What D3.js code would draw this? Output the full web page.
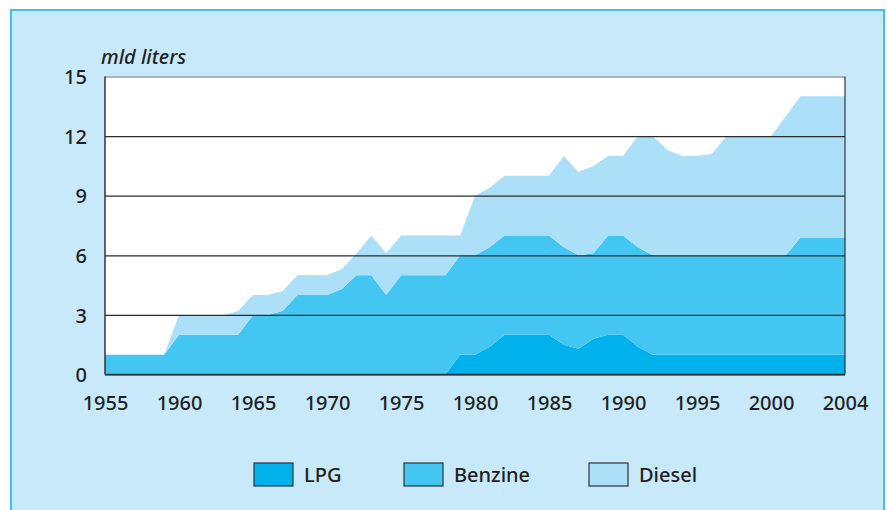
<!DOCTYPE html>
<meta charset="utf-8">
<style>
	body {
	margin: 0;
	background-color: #fff;
	}
	text {
	font-family: "Noto Sans", sans-serif;
	font-weight: 500;
	fill: #231f20;
	}
	.grid line {
	stroke: #2b2b2b;
	stroke-width: 1.2;
	}
	.grid path {
	display: none;
	}
	.xaxis path, .xaxis line {
	display: none;
	}
</style>
<body>
	<script src="https://cdn.jsdelivr.net/npm/d3@7"></script>
	<script>
		// yearly values (mld liters)
		var years = d3.range(1955, 2006);

		var lpg = [0,0,0,0,0, 0,0,0,0,0, 0,0,0,0,0, 0,0,0,0,0,
		           0,0,0,0,1, 1,1.4,2,2,2, 2,1.5,1.3,1.8,2, 2,1.4,1,1,1,
		           1,1,1,1,1, 1,1,1,1,1, 1];
		var benzine = [1,1,1,1,1, 2,2,2,2,2, 3,3,3.2,4,4, 4,4.3,5,5,4,
		               5,5,5,5,5, 5,5,5,5,5, 5,4.9,4.7,4.3,5, 5,5,5,5,5,
		               5,5,5,5,5, 5,5,5.9,5.9,5.9, 5.9];
		var diesel = [0,0,0,0,0, 1,1,1,1,1.2, 1,1,1,1,1, 1,1,1.1,2,2.1,
		              2,2,2,2,1, 3,3,3,3,3, 3,4.6,4.2,4.4,4, 4,5.6,6,5.3,5,
		              5,5.1,6,6,6, 6,7,7.1,7.1,7.1, 7.1];

		var keys = ["LPG", "Benzine", "Diesel"];
		var colors = ["#00b1ec", "#43c6f2", "#abe0f8"];

		var yTicks = [0, 3, 6, 9, 12, 15];
		var xTicks = [1955, 1960, 1965, 1970, 1975, 1980, 1985, 1990, 1995, 2000, 2005];
		var xTickLabels = ["1955", "1960", "1965", "1970", "1975", "1980", "1985", "1990", "1995", "2000", "2004"];

		var width = 887,
		    height = 510;

		var pLeft = 105, pRight = 845, pTop = 76.5, pBottom = 374.5;

		var x = d3.scaleLinear().domain([1955, 2005]).range([pLeft, pRight]);
		var y = d3.scaleLinear().domain([0, 15]).range([pBottom, pTop]);

		var table = years.map(function(yr, i) {
		  return {year: yr, LPG: lpg[i], Benzine: benzine[i], Diesel: diesel[i]};
		});

		var stacked = d3.stack().keys(keys)(table);

		var svg = d3.select("body").append("svg")
		    .attr("width", width)
		    .attr("height", height);

		// panel
		svg.append("rect")
		    .attr("x", 11).attr("y", 10)
		    .attr("width", 873).attr("height", 510)
		    .attr("fill", "#c7e9fa")
		    .attr("stroke", "#40c0f0")
		    .attr("stroke-width", 2);

		svg.append("rect")
		    .attr("x", pLeft).attr("y", pTop)
		    .attr("width", pRight - pLeft).attr("height", pBottom - pTop)
		    .attr("fill", "#fff");

		var area = d3.area()
		    .x(function(d) { return x(d.data.year); })
		    .y0(function(d) { return y(d[0]); })
		    .y1(function(d) { return y(d[1]); });

		svg.append("g")
		    .selectAll("path").data(stacked)
		  .enter().append("path")
		    .attr("fill", function(d, i) { return colors[i]; })
		    .attr("d", area);

		// grid + y labels
		var gy = svg.append("g")
		    .attr("class", "grid")
		    .attr("transform", "translate(" + pLeft + ",0)")
		    .call(d3.axisLeft(y).tickValues(yTicks).tickSize(-(pRight - pLeft)).tickPadding(18));
		gy.selectAll("line").filter(function(d) { return d == 15; }).style("stroke", "#707070");
		gy.selectAll("text")
		    .style("font-size", "20px")
		    .attr("dy", "0.36em");

		// frame
		svg.append("line")
		    .attr("x1", pLeft).attr("x2", pLeft).attr("y1", pTop).attr("y2", pBottom)
		    .attr("stroke", "#333").attr("stroke-width", 1.5);
		svg.append("line")
		    .attr("x1", pRight).attr("x2", pRight).attr("y1", pTop).attr("y2", pBottom)
		    .attr("stroke", "#333").attr("stroke-width", 1.2);
		svg.append("line")
		    .attr("x1", pLeft).attr("x2", pRight).attr("y1", pBottom).attr("y2", pBottom)
		    .attr("stroke", "#333").attr("stroke-width", 1.5);

		// x labels
		var gx = svg.append("g")
		    .attr("class", "xaxis")
		    .attr("transform", "translate(0," + pBottom + ")")
		    .call(d3.axisBottom(x).tickValues(xTicks).tickSize(0).tickPadding(28)
		      .tickFormat(function(d, i) { return xTickLabels[i]; }));
		gx.selectAll("text")
		    .style("font-size", "20px")
		    .attr("dy", "0.36em");

		svg.append("text")
		    .attr("x", 101).attr("y", 64)
		    .style("font-size", "20px")
		    .style("font-style", "italic")
		    .text("mld liters");

		// legend
		var legX = [254, 404, 589];
		var leg = svg.append("g").selectAll("g").data(keys)
		  .enter().append("g")
		    .attr("transform", function(d, i) { return "translate(" + legX[i] + ",463)"; });
		leg.append("rect")
		    .attr("width", 39).attr("height", 23)
		    .attr("fill", function(d, i) { return colors[i]; })
		    .attr("stroke", "#333").attr("stroke-width", 1.2);
		leg.append("text")
		    .attr("x", 50).attr("y", 19)
		    .style("font-size", "20px")
		    .text(function(d) { return d; });
	</script>
